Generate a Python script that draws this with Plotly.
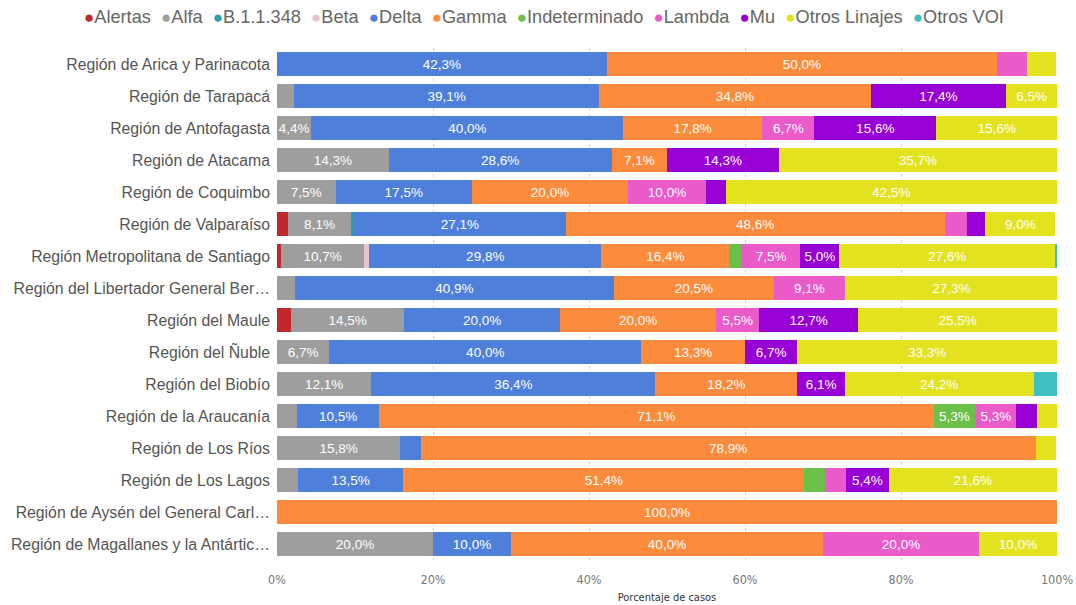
import plotly.graph_objects as go

regions = [
    "Región de Arica y Parinacota",
    "Región de Tarapacá",
    "Región de Antofagasta",
    "Región de Atacama",
    "Región de Coquimbo",
    "Región de Valparaíso",
    "Región Metropolitana de Santiago",
    "Región del Libertador General Ber…",
    "Región del Maule",
    "Región del Ñuble",
    "Región del Biobío",
    "Región de la Araucanía",
    "Región de Los Ríos",
    "Región de Los Lagos",
    "Región de Aysén del General Carl…",
    "Región de Magallanes y la Antártic…",
]

alertas = [0, 0, 0, 0, 0, 1.4, 0.5, 0, 1.8, 0, 0, 0, 0, 0, 0, 0]
alfa = [0, 2.2, 4.4, 14.3, 7.5, 8.1, 10.7, 2.3, 14.5, 6.7, 12.1, 2.6, 15.8, 2.7, 0, 20.0]
b11348 = [0, 0, 0, 0, 0, 0.4, 0, 0, 0, 0, 0, 0, 0, 0, 0, 0]
beta = [0, 0, 0, 0, 0, 0, 0.6, 0, 0, 0, 0, 0, 0, 0, 0, 0]
delta = [42.3, 39.1, 40.0, 28.6, 17.5, 27.1, 29.8, 40.9, 20.0, 40.0, 36.4, 10.5, 2.6, 13.5, 0, 10.0]
gamma = [50.0, 34.8, 17.8, 7.1, 20.0, 48.6, 16.4, 20.5, 20.0, 13.3, 18.2, 71.1, 78.9, 51.4, 100.0, 40.0]
indeterminado = [0, 0, 0, 0, 0, 0, 1.6, 0, 0, 0, 0, 5.3, 0, 2.7, 0, 0]
lambda_ = [3.8, 0, 6.7, 0, 10.0, 2.9, 7.5, 9.1, 5.5, 0, 0, 5.3, 0, 2.7, 0, 20.0]
mu = [0, 17.4, 15.6, 14.3, 2.5, 2.3, 5.0, 0, 12.7, 6.7, 6.1, 2.6, 0, 5.4, 0, 0]
otros_linajes = [3.8, 6.5, 15.6, 35.7, 42.5, 9.0, 27.6, 27.3, 25.5, 33.3, 24.2, 2.6, 2.6, 21.6, 0, 10.0]
otros_voi = [0, 0, 0, 0, 0, 0, 0.3, 0, 0, 0, 3.0, 0, 0, 0, 0, 0]

series_names = ["Alertas", "Alfa", "B.1.1.348", "Beta", "Delta", "Gamma",
                "Indeterminado", "Lambda", "Mu", "Otros Linajes", "Otros VOI"]
series_values = [alertas, alfa, b11348, beta, delta, gamma,
                 indeterminado, lambda_, mu, otros_linajes, otros_voi]
colors = ["#C1272D", "#9E9E9E", "#2A9DAA", "#E9C4CC", "#4E7FDA", "#FD8B3C",
          "#6CC04A", "#EA5AC8", "#9900D5", "#E3E21E", "#3FC0C0"]

x_ticks = [0, 20, 40, 60, 80, 100]
x_tick_labels = ["0%", "20%", "40%", "60%", "80%", "100%"]

fig = go.Figure()
for name, vals, col in zip(series_names, series_values, colors):
    labels = [(f"{v:.1f}".replace(".", ",") + "%") if v >= 4 else "" for v in vals]
    fig.add_trace(go.Bar(
        name=name, y=regions, x=vals, orientation="h",
        marker=dict(color=col, line=dict(width=0)),
        text=labels, textposition="inside", insidetextanchor="middle",
        textangle=0, textfont=dict(color="white", size=13.5, family="Liberation Sans, Arial"),
        hoverinfo="skip", showlegend=False,
    ))

legend_text = "&nbsp;&nbsp;".join(
    f'<span style="color:{c};font-size:17px">●</span>{n}' for n, c in zip(series_names, colors)
)
fig.add_annotation(
    text=legend_text, xref="paper", yref="paper",
    x=(544 - 277) / 780, y=1 + (48 - 17) / 512, xanchor="center", yanchor="middle",
    showarrow=False, font=dict(size=18.2, color="#666666", family="Liberation Sans, Arial"),
)

fig.update_layout(
    barmode="stack", bargap=0.22,
    width=1076, height=605,
    margin=dict(l=277, r=19, t=48, b=45, autoexpand=False),
    paper_bgcolor="white", plot_bgcolor="white",
    uniformtext=dict(minsize=13.5, mode="show"),
    xaxis=dict(
        range=[0, 100], tickvals=x_ticks, ticktext=x_tick_labels,
        showgrid=True, gridcolor="#CFCFCF", griddash="dot", gridwidth=1,
        zeroline=False, showline=False, ticklabelstandoff=10, automargin=False,
        tickfont=dict(size=12.5, color="#777777", family="DejaVu Sans Condensed, Roboto"),
        title=dict(text="Porcentaje de casos", standoff=7,
                   font=dict(size=11, color="#333333", family="DejaVu Sans Condensed, Roboto")),
    ),
    yaxis=dict(
        categoryorder="array", categoryarray=regions, autorange="reversed",
        showgrid=False, zeroline=False, showline=False, automargin=False,
        tickfont=dict(size=15.8, color="#555555", family="Liberation Sans, Arial"),
        ticklabelstandoff=6,
    ),
)

fig.write_html(
    "out.html",
    config={"responsive": False, "displayModeBar": False},
    post_script="document.body.style.margin='0';document.body.style.overflow='hidden';",
)
